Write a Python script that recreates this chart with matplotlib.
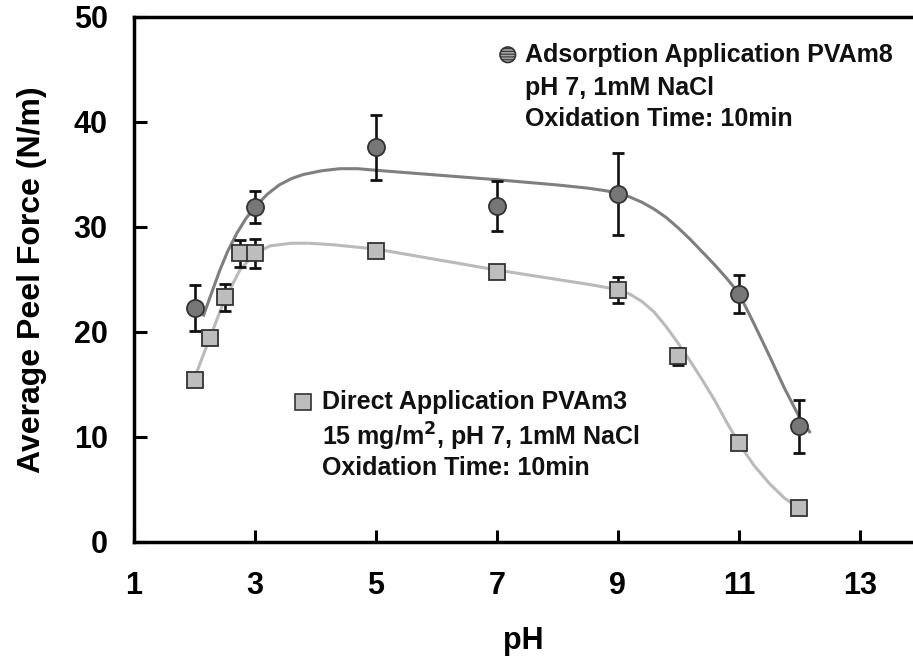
import numpy as np
import matplotlib.pyplot as plt

plt.rcParams['font.family'] = ['Liberation Sans', 'DejaVu Sans']
plt.rcParams['font.weight'] = 'bold'
plt.rcParams['hatch.color'] = '#444444'
plt.rcParams['hatch.linewidth'] = 0.8

# adsorption application, PVAm8
ph_ads = [2, 3, 5, 7, 9, 11, 12]
force_ads = [22.3, 31.9, 37.6, 32.0, 33.1, 23.6, 11.0]
err_ads = [2.2, 1.5, 3.1, 2.4, 3.9, 1.8, 2.5]

# direct application, PVAm3
ph_dir = [2, 2.25, 2.5, 2.75, 3, 5, 7, 9, 10, 11, 12]
force_dir = [15.4, 19.4, 23.3, 27.5, 27.5, 27.7, 25.7, 24.0, 17.7, 9.4, 3.2]
err_dir = [0.0, 0.0, 1.3, 1.3, 1.4, 0.5, 0.4, 1.2, 0.8, 0.0, 0.0]

# fitted curves as drawn
fit_ads_x = [2.15, 2.3, 2.42, 2.55, 2.7, 2.85, 3.0, 3.2, 3.4, 3.6, 3.8, 4.1,
             4.4, 4.7, 5.0, 6.0, 7.0, 8.0, 8.5, 8.8, 9.0, 9.2, 9.4, 9.6,
             9.8, 10.0, 10.2, 10.4, 10.6, 10.8, 11.0, 11.25, 11.5, 11.75,
             12.0, 12.17]
fit_ads_y = [21.6, 24.0, 25.9, 27.7, 29.4, 30.8, 31.9, 33.1, 34.0, 34.6, 35.0,
             35.35, 35.55, 35.55, 35.4, 34.95, 34.5, 34.0, 33.7, 33.45, 33.2,
             32.85, 32.35, 31.7, 30.9, 29.9, 28.8, 27.6, 26.4, 25.1, 23.7,
             20.8, 17.8, 14.7, 11.9, 10.5]
fit_dir_x = [2.0, 2.25, 2.5, 2.75, 3.0, 3.25, 3.6, 3.9, 4.3, 5.0, 6.0, 7.0,
             8.0, 8.5, 8.8, 9.0, 9.2, 9.4, 9.6, 9.8, 10.0, 10.2, 10.4, 10.6,
             10.8, 11.0, 11.25, 11.5, 11.75, 12.0]
fit_dir_y = [15.6, 19.4, 23.1, 25.9, 27.5, 28.2, 28.45, 28.45, 28.3, 27.9,
             26.9, 25.9, 25.0, 24.55, 24.25, 24.0, 23.6, 22.9, 21.9, 20.5,
             18.9, 17.2, 15.4, 13.5, 11.4, 9.4, 7.3, 5.6, 4.2, 3.2]

fig = plt.figure(figsize=(9.13, 6.6), dpi=100)
ax = fig.add_axes([0.1468, 0.1788, 0.8532, 0.7955])

ax.plot(fit_dir_x, fit_dir_y, color='#bababa', lw=2.2, zorder=2)
ax.plot(fit_ads_x, fit_ads_y, color='#7f7f7f', lw=2.2, zorder=2)

ax.errorbar(ph_dir, force_dir, yerr=err_dir, fmt='none', ecolor='#111111',
            elinewidth=1.9, capsize=4, capthick=2, zorder=3)
ax.errorbar(ph_ads, force_ads, yerr=err_ads, fmt='none', ecolor='#111111',
            elinewidth=1.9, capsize=4.3, capthick=2, zorder=3)
ax.plot(ph_dir, force_dir, 's', ms=11.5, mfc='#bdbdbd', mec='#333333',
        mew=1.3, ls='none', zorder=4)
ax.plot(ph_ads, force_ads, 'o', ms=12.3, mfc='#777777', mec='#333333',
        mew=1.3, ls='none', zorder=4)

ax.set_xlim(1, 13.88)
ax.set_ylim(0, 50)
ax.set_xticks([1, 3, 5, 7, 9, 11, 13])
ax.set_yticks([0, 10, 20, 30, 40, 50])
ax.tick_params(direction='in', length=9, width=2.2, labelsize=22)
ax.tick_params(axis='x', pad=21)
ax.tick_params(axis='y', pad=19)
for lab in ax.get_xticklabels() + ax.get_yticklabels():
    lab.set_fontweight('bold')
ax.spines['right'].set_visible(False)
for s in ['left', 'bottom', 'top']:
    ax.spines[s].set_linewidth(2.5)

ax.set_xlabel('pH', fontsize=22, fontweight='bold', labelpad=18)
ax.set_ylabel('Average Peel Force (N/m)', fontsize=23, fontweight='bold',
              labelpad=19)

# in-plot legend blocks
tkw = dict(fontsize=18, fontweight='bold', va='center', ha='left',
           color='#111111')
ax.scatter([7.18], [46.4], s=125, c='#a5a5a5', edgecolors='#333333',
           linewidths=1.2, hatch='------', zorder=5)
ax.text(7.46, 46.4, 'Adsorption Application PVAm8', **tkw)
ax.text(7.46, 43.2, 'pH 7, 1mM NaCl', **tkw)
ax.text(7.46, 40.3, 'Oxidation Time: 10min', **tkw)

ax.plot([3.79], [13.3], 's', ms=11, mfc='#bdbdbd', mec='#333333', mew=1.2,
        zorder=5)
ax.text(4.11, 13.3, 'Direct Application PVAm3', **tkw)
ax.text(4.11, 10.0, '15 mg/m$^\\mathbf{2}$, pH 7, 1mM NaCl', **tkw)
ax.text(4.11, 7.0, 'Oxidation Time: 10min', **tkw)

fig.savefig('out.png', dpi=100)
